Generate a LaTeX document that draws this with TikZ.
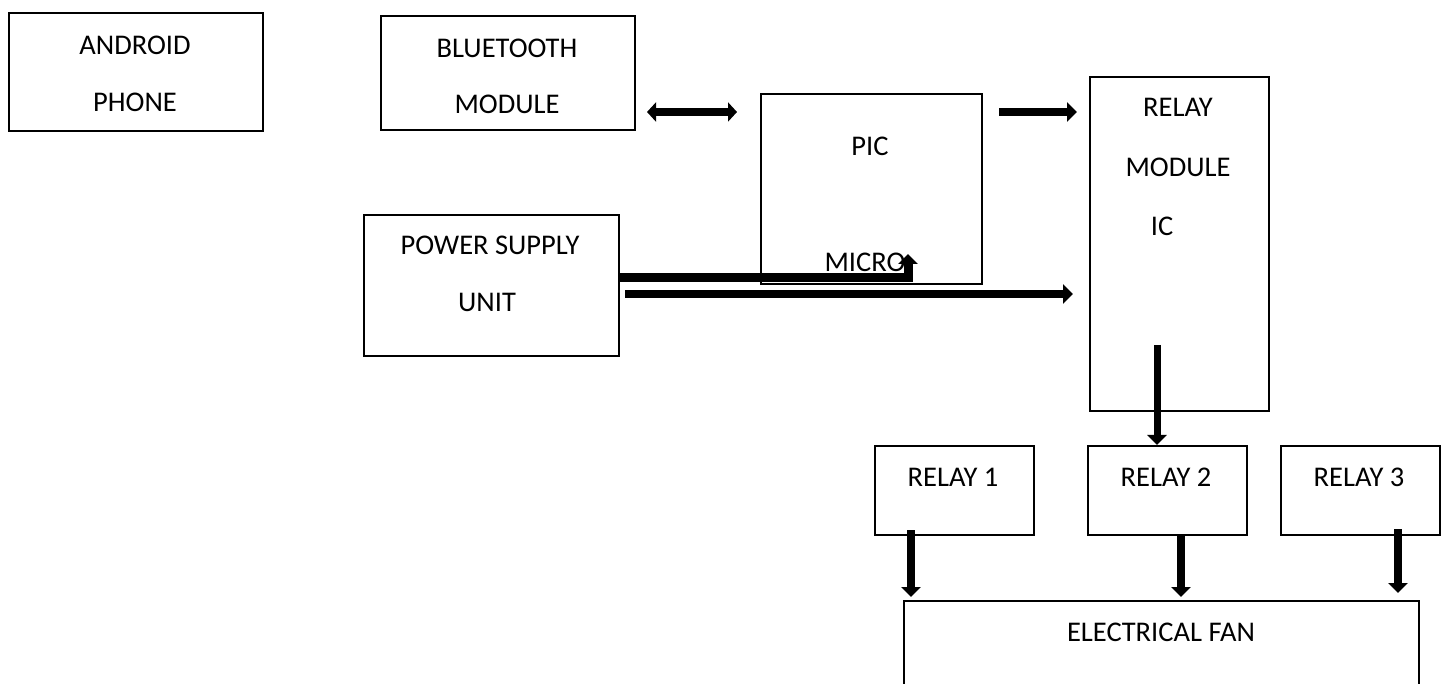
\documentclass[tikz,border=0pt]{standalone}
\usepackage{fontspec}
\setmainfont{Carlito}
\usetikzlibrary{arrows.meta,calc}
\begin{document}
\begin{tikzpicture}[x=1pt,y=-1pt,
  box/.style={draw=black,line width=2.2pt,rectangle,inner sep=0pt,anchor=north west},
  lbl/.style={font=\fontsize{28.5}{30}\selectfont,inner sep=0pt,anchor=center},
  fat/.style={line width=8pt,-{Triangle[width=19pt,length=10pt]}},
  fatboth/.style={line width=8pt,{Triangle[width=19pt,length=9pt]}-{Triangle[width=19pt,length=9pt]}}]
\useasboundingbox (0,0) rectangle (1446,684);
\clip (0,0) rectangle (1446,684);
% boxes
\node[box,minimum width=254pt,minimum height=118pt] (android) at (8,12) {};
\node[box,minimum width=254pt,minimum height=114pt] (bt) at (380,15) {};
\node[box,minimum width=221pt,minimum height=190pt] (pic) at (760,93) {};
\node[box,minimum width=179pt,minimum height=334pt] (relaymod) at (1089,76) {};
\node[box,minimum width=255pt,minimum height=141pt] (psu) at (363,214) {};
\node[box,minimum width=159pt,minimum height=89pt] (relay1) at (874,445) {};
\node[box,minimum width=159pt,minimum height=89pt] (relay2) at (1087,445) {};
\node[box,minimum width=159pt,minimum height=89pt] (relay3) at (1280,445) {};
\node[box,minimum width=515pt,minimum height=140pt] (fan) at (903,600) {};
% texts
\node[lbl] (t1) at (135,45) {ANDROID};
\node[lbl] (t2) at (135,102) {PHONE};
\node[lbl] (t3) at (507,48) {BLUETOOTH};
\node[lbl] (t4) at (507,104) {MODULE};
\node[lbl] (t5) at (870,146) {PIC};
\node[lbl] (t6) at (865,262) {MICRO};
\node[lbl] (t7) at (1178,107) {RELAY};
\node[lbl] (t8) at (1178,167) {MODULE};
\node[lbl] (t9) at (1162,226) {IC};
\node[lbl] (t10) at (490,245) {POWER SUPPLY};
\node[lbl] (t11) at (487,302) {UNIT};
\node[lbl] (t12) at (953,477) {RELAY 1};
\node[lbl] (t13) at (1166,477) {RELAY 2};
\node[lbl] (t14) at (1359,477) {RELAY 3};
\node[lbl] (t15) at (1161,632) {ELECTRICAL FAN};
% connector end points
\coordinate (btR) at (647,112);
\coordinate (picL) at (737,112);
\coordinate (picR) at (999,112);
\coordinate (rmL) at (1077,112);
\coordinate (psuA) at (618,278);
\coordinate (picB) at (908,254);
\coordinate (psuB) at (625,294);
\coordinate (rmL2) at (1073,294);
\coordinate (rmB) at (1157,345);
\coordinate (r1B) at (911,530);
\coordinate (r2B) at (1181,534);
\coordinate (r3B) at (1398,529);
% connectors
\draw[fatboth] (btR) -- (picL);
\draw[fat] (picR) -- (rmL);
\draw[fat,line width=9pt,line join=miter] (psuA) -| (picB);
\draw[fat] (psuB) -- (rmL2);
\draw[fat,line width=7pt] (rmB) -- (rmB |- relay2.north);
\draw[fat] (r1B) -- ($(r1B |- fan.north)+(0,-3)$);
\draw[fat] (r2B) -- ($(r2B |- fan.north)+(0,-3)$);
\draw[fat] (r3B) -- ($(r3B |- fan.north)+(0,-7)$);
\end{tikzpicture}
\end{document}
